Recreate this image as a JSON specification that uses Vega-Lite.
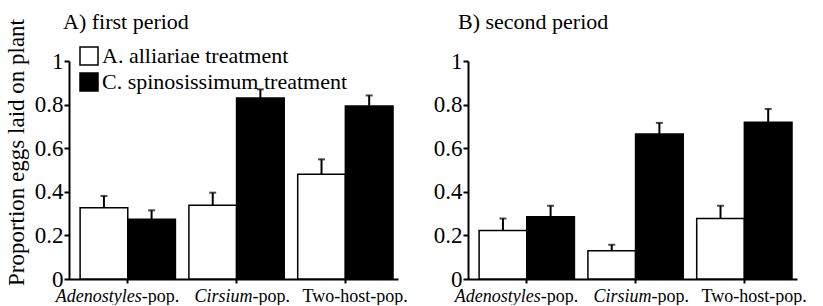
{
  "$schema": "https://vega.github.io/schema/vega-lite/v6.json",
  "padding": {"left": 4, "top": 11, "right": 0, "bottom": 0},
  "config": {
    "font": "Liberation Serif",
    "view": {"stroke": null},
    "axis": {"domainColor": "black", "domainWidth": 2, "tickColor": "black", "tickWidth": 2, "labelColor": "black", "titleColor": "black", "grid": false, "labelFont": "Liberation Serif", "titleFont": "Liberation Serif"},
    "title": {"font": "Liberation Serif", "fontSize": 22, "fontWeight": "normal", "color": "black", "anchor": "start", "frame": "group"}
  },
  "datasets": {
    "d": [
      {"period": "A", "group": "Adenostyles-pop.", "treatment": "A. alliariae treatment", "value": 0.327, "upper": 0.381},
      {"period": "A", "group": "Adenostyles-pop.", "treatment": "C. spinosissimum treatment", "value": 0.274, "upper": 0.315},
      {"period": "A", "group": "Cirsium-pop.", "treatment": "A. alliariae treatment", "value": 0.338, "upper": 0.396},
      {"period": "A", "group": "Cirsium-pop.", "treatment": "C. spinosissimum treatment", "value": 0.83, "upper": 0.87},
      {"period": "A", "group": "Two-host-pop.", "treatment": "A. alliariae treatment", "value": 0.48, "upper": 0.549},
      {"period": "A", "group": "Two-host-pop.", "treatment": "C. spinosissimum treatment", "value": 0.794, "upper": 0.842},
      {"period": "B", "group": "Adenostyles-pop.", "treatment": "A. alliariae treatment", "value": 0.222, "upper": 0.278},
      {"period": "B", "group": "Adenostyles-pop.", "treatment": "C. spinosissimum treatment", "value": 0.286, "upper": 0.336},
      {"period": "B", "group": "Cirsium-pop.", "treatment": "A. alliariae treatment", "value": 0.13, "upper": 0.157},
      {"period": "B", "group": "Cirsium-pop.", "treatment": "C. spinosissimum treatment", "value": 0.665, "upper": 0.716},
      {"period": "B", "group": "Two-host-pop.", "treatment": "A. alliariae treatment", "value": 0.278, "upper": 0.336},
      {"period": "B", "group": "Two-host-pop.", "treatment": "C. spinosissimum treatment", "value": 0.719, "upper": 0.78}
    ]
  },
  "spacing": 25,
  "resolve": {"scale": {"fill": "independent"}, "legend": {"fill": "independent"}},
  "hconcat": [
    {
      "width": 329,
      "height": 218,
      "title": {"text": "A) first period", "offset": -16, "dx": -6},
      "data": {"name": "d"},
      "transform": [{"filter": "datum.period == 'A'"}],
      "resolve": {"axis": {"x": "independent"}},
      "layer": [
        {
          "mark": {"type": "bar", "stroke": "black", "strokeWidth": 1.5},
          "encoding": {
            "x": {"field": "group", "type": "nominal", "sort": ["Adenostyles-pop.", "Cirsium-pop.", "Two-host-pop."],
              "scale": {"paddingInner": 0.124, "paddingOuter": 0.074, "align": 0.69},
              "axis": {"orient": "bottom", "title": null, "labelAngle": 0, "labelFontSize": 18, "labelExpr": "split(datum.label, '-pop.')[0]",
                "labelFontStyle": {"condition": {"test": "datum.value == 'Two-host-pop.'", "value": "normal"}, "value": "italic"},
                "labelOffset": {"condition": [{"test": "datum.value == 'Two-host-pop.'", "value": 25}, {"test": "datum.value == 'Cirsium-pop.'", "value": 16}], "value": 14},
                "labelAlign": "right", "tickSize": 4, "labelPadding": 4}},
            "xOffset": {"field": "treatment", "type": "nominal"},
            "y": {"field": "value", "type": "quantitative", "scale": {"domain": [0, 1]},
              "axis": {"values": [0, 0.1, 0.2, 0.3, 0.4, 0.5, 0.6, 0.7, 0.8, 0.9, 1],
                "labelExpr": "abs(datum.value*5 - round(datum.value*5)) < 0.001 ? format(datum.value, '~g') : ''",
                "tickSize": {"condition": {"test": "abs(datum.value*5 - round(datum.value*5)) < 0.001", "value": 5}, "value": 2},
                "labelFontSize": 23, "labelPadding": 1, "labelOverlap": false, "labelFlush": false,
                "title": "Proportion eggs laid on plant", "titleFontSize": 23, "titleFontWeight": "normal",
                "titleAngle": -90, "titleX": -46, "titleY": 91, "titleAlign": "center", "titleBaseline": "alphabetic"}},
            "fill": {"field": "treatment", "type": "nominal", "scale": {"range": ["white", "black"]},
              "legend": {"orient": "none", "legendX": 9, "legendY": -16, "title": null, "symbolType": "square", "symbolSize": 324,
                "symbolStrokeColor": "black", "symbolStrokeWidth": 1.5, "labelFontSize": 22, "labelFont": "Liberation Serif",
                "labelColor": "black", "labelOffset": 2, "rowPadding": 2, "padding": 0, "labelLimit": 400}}
          }
        },
        {
          "mark": {"type": "rule", "strokeWidth": 2, "color": "black"},
          "encoding": {
            "x": {"field": "group", "type": "nominal", "sort": ["Adenostyles-pop.", "Cirsium-pop.", "Two-host-pop."], "axis": null},
            "xOffset": {"field": "treatment", "type": "nominal"},
            "y": {"field": "value", "type": "quantitative"},
            "y2": {"field": "upper"}
          }
        },
        {
          "mark": {"type": "tick", "color": "black", "thickness": 2, "size": 7, "orient": "horizontal"},
          "encoding": {
            "x": {"field": "group", "type": "nominal", "sort": ["Adenostyles-pop.", "Cirsium-pop.", "Two-host-pop."],
              "axis": {"orient": "bottom", "title": null, "labelAngle": 0, "labelFontSize": 18, "labelExpr": "'-pop.'",
                "labelOffset": {"condition": [{"test": "datum.value == 'Two-host-pop.'", "value": 25}, {"test": "datum.value == 'Cirsium-pop.'", "value": 16}], "value": 14},
                "labelAlign": "left", "tickSize": 4, "tickOpacity": 0, "domain": false, "labelPadding": 4}},
            "xOffset": {"field": "treatment", "type": "nominal"},
            "y": {"field": "upper", "type": "quantitative"}
          }
        }
      ]
    },
    {
      "width": 329,
      "height": 218,
      "title": {"text": "B) second period", "offset": 16, "dx": -10},
      "data": {"name": "d"},
      "transform": [{"filter": "datum.period == 'B'"}],
      "resolve": {"axis": {"x": "independent"}},
      "layer": [
        {
          "mark": {"type": "bar", "stroke": "black", "strokeWidth": 1.5},
          "encoding": {
            "x": {"field": "group", "type": "nominal", "sort": ["Adenostyles-pop.", "Cirsium-pop.", "Two-host-pop."],
              "scale": {"paddingInner": 0.124, "paddingOuter": 0.074, "align": 0.69},
              "axis": {"orient": "bottom", "title": null, "labelAngle": 0, "labelFontSize": 18, "labelExpr": "split(datum.label, '-pop.')[0]",
                "labelFontStyle": {"condition": {"test": "datum.value == 'Two-host-pop.'", "value": "normal"}, "value": "italic"},
                "labelOffset": {"condition": [{"test": "datum.value == 'Two-host-pop.'", "value": 25}, {"test": "datum.value == 'Cirsium-pop.'", "value": 16}], "value": 14},
                "labelAlign": "right", "tickSize": 4, "labelPadding": 4}},
            "xOffset": {"field": "treatment", "type": "nominal"},
            "y": {"field": "value", "type": "quantitative", "scale": {"domain": [0, 1]},
              "axis": {"values": [0, 0.1, 0.2, 0.3, 0.4, 0.5, 0.6, 0.7, 0.8, 0.9, 1],
                "labelExpr": "abs(datum.value*5 - round(datum.value*5)) < 0.001 ? format(datum.value, '~g') : ''",
                "tickSize": {"condition": {"test": "abs(datum.value*5 - round(datum.value*5)) < 0.001", "value": 5}, "value": 2},
                "labelFontSize": 23, "labelPadding": 1, "labelOverlap": false, "labelFlush": false, "title": null}},
            "fill": {"field": "treatment", "type": "nominal", "scale": {"range": ["white", "black"]}, "legend": null}
          }
        },
        {
          "mark": {"type": "rule", "strokeWidth": 2, "color": "black"},
          "encoding": {
            "x": {"field": "group", "type": "nominal", "sort": ["Adenostyles-pop.", "Cirsium-pop.", "Two-host-pop."], "axis": null},
            "xOffset": {"field": "treatment", "type": "nominal"},
            "y": {"field": "value", "type": "quantitative"},
            "y2": {"field": "upper"}
          }
        },
        {
          "mark": {"type": "tick", "color": "black", "thickness": 2, "size": 7, "orient": "horizontal"},
          "encoding": {
            "x": {"field": "group", "type": "nominal", "sort": ["Adenostyles-pop.", "Cirsium-pop.", "Two-host-pop."],
              "axis": {"orient": "bottom", "title": null, "labelAngle": 0, "labelFontSize": 18, "labelExpr": "'-pop.'",
                "labelOffset": {"condition": [{"test": "datum.value == 'Two-host-pop.'", "value": 25}, {"test": "datum.value == 'Cirsium-pop.'", "value": 16}], "value": 14},
                "labelAlign": "left", "tickSize": 4, "tickOpacity": 0, "domain": false, "labelPadding": 4}},
            "xOffset": {"field": "treatment", "type": "nominal"},
            "y": {"field": "upper", "type": "quantitative"}
          }
        }
      ]
    }
  ]
}
